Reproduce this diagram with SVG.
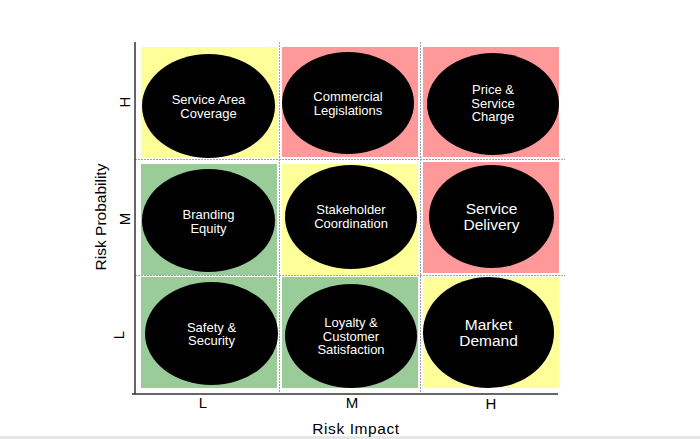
<svg xmlns="http://www.w3.org/2000/svg" width="700" height="439" viewBox="0 0 700 439">
<style>
.y{fill:#ffff99}.r{fill:#ff9999}.g{fill:#99cc99}
.e{fill:#000}
.t{font-family:"Liberation Sans",Arial,sans-serif;font-size:13px;fill:#fff;text-anchor:middle}
.tb{font-family:"Liberation Sans",Arial,sans-serif;font-size:15.5px;fill:#fff;text-anchor:middle}
.ax{font-family:"Liberation Sans",Arial,sans-serif;font-size:15px;fill:#000;text-anchor:middle}
.grid{stroke:#a0a0a0;stroke-width:1;stroke-dasharray:2,1;fill:none}
.axis{stroke:#333;stroke-width:1.5;fill:none}
</style>
<rect width="700" height="439" fill="#fff"/>
<rect x="0" y="436" width="700" height="3" fill="#e6e6e6"/>
<g id="cells">
<rect class="y" x="141" y="47" width="136" height="110"/>
<rect class="r" x="282" y="47" width="136" height="110"/>
<rect class="r" x="423" y="47" width="136" height="110"/>
<rect class="g" x="141" y="164" width="136" height="111"/>
<rect class="y" x="282" y="164" width="136" height="111"/>
<rect class="r" x="423" y="162" width="136" height="111"/>
<rect class="g" x="141" y="277" width="136" height="111"/>
<rect class="g" x="282" y="277" width="136" height="111"/>
<rect class="y" x="423" y="277" width="136" height="111"/>
</g>
<g id="grid">
<line class="grid" x1="279.5" y1="42" x2="279.5" y2="393"/>
<line class="grid" x1="420.5" y1="42" x2="420.5" y2="393"/>
<line class="grid" x1="135" y1="159.5" x2="565" y2="159.5"/>
<line class="grid" x1="135" y1="275.5" x2="565" y2="275.5"/>
</g>
<g id="axes">
<line class="axis" x1="135" y1="42" x2="135" y2="394"/>
<line class="axis" x1="132" y1="394" x2="558" y2="394"/>
</g>
<g id="n-service-area">
<ellipse class="e" cx="208.5" cy="106" rx="66.5" ry="52"/>
<text class="t" x="208.5" y="104">Service Area</text>
<text class="t" x="208.5" y="118">Coverage</text>
</g>
<g id="n-commercial">
<ellipse class="e" cx="348" cy="103" rx="66" ry="51"/>
<text class="t" x="348" y="101">Commercial</text>
<text class="t" x="348" y="114.5">Legislations</text>
</g>
<g id="n-price">
<ellipse class="e" cx="493" cy="104" rx="66" ry="51"/>
<text class="t" x="493" y="94">Price &amp;</text>
<text class="t" x="493" y="107.5">Service</text>
<text class="t" x="493" y="121">Charge</text>
</g>
<g id="n-branding">
<ellipse class="e" cx="208.5" cy="220.5" rx="66.5" ry="51.5"/>
<text class="t" x="208.5" y="218.5">Branding</text>
<text class="t" x="208.5" y="232.5">Equity</text>
</g>
<g id="n-stakeholder">
<ellipse class="e" cx="351" cy="217" rx="66" ry="52"/>
<text class="t" x="351" y="214">Stakeholder</text>
<text class="t" x="351" y="228">Coordination</text>
</g>
<g id="n-service-delivery">
<ellipse class="e" cx="491.5" cy="216.5" rx="62.5" ry="51.5"/>
<text class="tb" x="491.5" y="214">Service</text>
<text class="tb" x="491.5" y="229.5">Delivery</text>
</g>
<g id="n-safety">
<ellipse class="e" cx="211.5" cy="333.5" rx="66.5" ry="51.5"/>
<text class="t" x="211.5" y="331.5">Safety &amp;</text>
<text class="t" x="211.5" y="345">Security</text>
</g>
<g id="n-loyalty">
<ellipse class="e" cx="351" cy="336" rx="66" ry="52"/>
<text class="t" x="351" y="327">Loyalty &amp;</text>
<text class="t" x="351" y="340.5">Customer</text>
<text class="t" x="351" y="354">Satisfaction</text>
</g>
<g id="n-market">
<ellipse class="e" cx="488.5" cy="332.5" rx="65.5" ry="55.5"/>
<text class="tb" x="488.5" y="330">Market</text>
<text class="tb" x="488.5" y="346">Demand</text>
</g>
<g id="labels">
<text class="ax" transform="translate(130,102) rotate(-90)">H</text>
<text class="ax" transform="translate(130,219) rotate(-90)">M</text>
<text class="ax" transform="translate(124,335) rotate(-90)">L</text>
<text class="ax" style="font-size:15.5px" transform="translate(106,217) rotate(-90)">Risk Probability</text>
<text class="ax" x="203" y="408">L</text>
<text class="ax" x="352" y="408">M</text>
<text class="ax" x="491" y="409">H</text>
<text class="ax" x="356" y="434" style="font-size:15.5px;letter-spacing:0.6px">Risk Impact</text>
</g>
</svg>
